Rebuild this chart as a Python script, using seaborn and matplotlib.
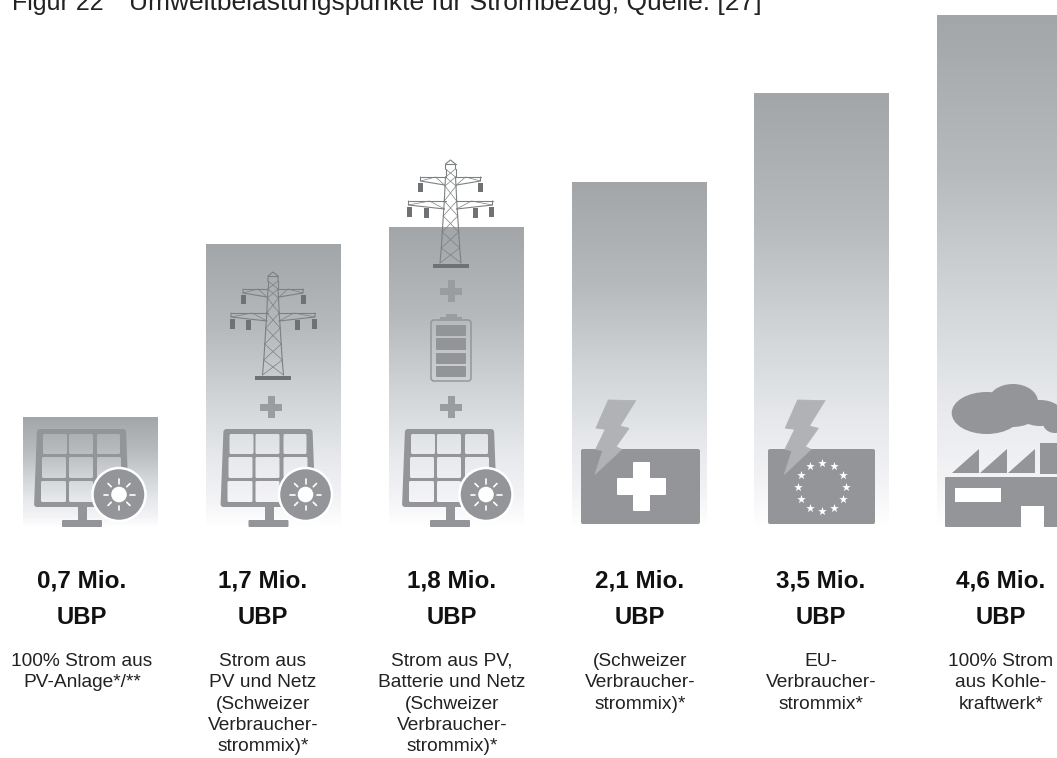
"""
Umweltbelastungspunkte fuer Strombezug: gradient bars with pictograms.
The bars are not to scale with the UBP labels, heights are read off the figure.
"""

import numpy as np
import pandas as pd
import seaborn as sns
import matplotlib.pyplot as plt
from matplotlib.colors import LinearSegmentedColormap
from matplotlib.patches import Circle, Ellipse, FancyBboxPatch, PathPatch, Polygon, Rectangle
from matplotlib.path import Path

sources = ["PV", "PV+Netz", "PV+Batterie+Netz", "CH-Mix", "EU-Mix", "Kohle"]
bar_heights = [110, 283, 300, 345, 434, 512]
ubp_labels = ["0,7 Mio.", "1,7 Mio.", "1,8 Mio.", "2,1 Mio.", "3,5 Mio.", "4,6 Mio."]
descriptions = [
    "100% Strom aus\nPV-Anlage*/**",
    "Strom aus\nPV und Netz\n(Schweizer\nVerbraucher-\nstrommix)*",
    "Strom aus PV,\nBatterie und Netz\n(Schweizer\nVerbraucher-\nstrommix)*",
    "(Schweizer\nVerbraucher-\nstrommix)*",
    "EU-\nVerbraucher-\nstrommix*",
    "100% Strom\naus Kohle-\nkraftwerk*",
]
label_centers = [82, 263, 452, 640, 821, 1001]
title_num = "Figur 22"
title_txt = "Umweltbelastungspunkte für Strombezug, Quelle: [27]"

ICON = "#939598"
FONT = "Liberation Sans"


def round_poly(pts, r):
    # closed 4 point polygon with rounded corners, for a compound path
    verts, codes = [], []
    n = len(pts)
    for i in range(n):
        p = np.array(pts[i], dtype=float)
        prev = np.array(pts[i - 1], dtype=float)
        nxt = np.array(pts[(i + 1) % n], dtype=float)
        a = p + (prev - p) / np.linalg.norm(prev - p) * r
        b = p + (nxt - p) / np.linalg.norm(nxt - p) * r
        verts.append(tuple(a))
        codes.append(Path.MOVETO if i == 0 else Path.LINETO)
        verts += [tuple(p), tuple(b)]
        codes += [Path.CURVE3, Path.CURVE3]
    verts.append(verts[0])
    codes.append(Path.CLOSEPOLY)
    return verts, codes


def solar(ax, dx, badge_dx):
    # panel with the cells cut out so the gradient shows through
    verts, codes = round_poly([(37, 429), (126, 429), (129, 507), (34, 507)], 3)
    rows = [(434, 454, [(43, 67), (69, 93), (97, 120)]),
            (457, 478, [(42, 66), (69, 93), (97, 121)]),
            (481, 502, [(41, 66), (69, 93), (97, 122)])]
    for y0, y1, cols in rows:
        for x0, x1 in cols:
            v, c = round_poly([(x0, y0), (x0, y1), (x1, y1), (x1, y0)], 1.5)
            verts += v
            codes += c
    verts = [(x + dx, y) for x, y in verts]
    ax.add_patch(PathPatch(Path(verts, codes), fc=ICON, ec="none"))
    ax.add_patch(Rectangle((78 + dx, 507), 9, 15, fc=ICON, ec="none"))
    ax.add_patch(FancyBboxPatch((63 + dx, 521), 38, 5, boxstyle="round,pad=1", fc=ICON, ec="none"))
    # sun badge
    cx, cy = 119 + badge_dx, 494.5
    ax.add_patch(Circle((cx, cy), 26.5, fc=ICON, ec="white", lw=1.8))
    ax.add_patch(Circle((cx, cy), 7.8, fc="white", ec="none"))
    for a in np.deg2rad(np.arange(0, 360, 45)):
        ax.plot([cx + 11 * np.cos(a), cx + 15.5 * np.cos(a)], [cy + 11 * np.sin(a), cy + 15.5 * np.sin(a)],
                color="white", lw=1.2, solid_capstyle="round")


def plus(ax, cx, cy):
    ax.add_patch(Rectangle((cx - 11, cy - 3.5), 22, 7, fc="#9a9da0", ec="none"))
    ax.add_patch(Rectangle((cx - 3.5, cy - 11), 7, 22, fc="#9a9da0", ec="none"))


def pylon(ax, cx, top):
    col = "#7d8083"
    kw = dict(color=col, lw=0.8)
    ys = [9, 17, 26, 41, 56, 72, 88, 103]
    half = [5, 5, 5.5, 6.2, 7.2, 8.2, 9.2, 10.5]
    # cap
    ax.plot([cx - 5, cx - 5, cx, cx + 5, cx + 5], [top + 9, top + 4, top, top + 4, top + 9], **kw)
    ax.plot([cx - 5, cx + 5], [top + 4, top + 4], **kw)
    for i in range(len(ys) - 1):
        ax.plot([cx - half[i], cx - half[i + 1]], [top + ys[i], top + ys[i + 1]], **kw)
        ax.plot([cx + half[i], cx + half[i + 1]], [top + ys[i], top + ys[i + 1]], **kw)
        ax.plot([cx - half[i], cx + half[i + 1]], [top + ys[i], top + ys[i + 1]], color=col, lw=0.5)
        ax.plot([cx + half[i], cx - half[i + 1]], [top + ys[i], top + ys[i + 1]], color=col, lw=0.5)
    # arms
    for arm, yy in [(30, 17), (42, 41)]:
        for s in (-1, 1):
            ax.plot([cx + s * 5, cx + s * arm], [top + yy, top + yy], **kw)
            ax.plot([cx + s * arm, cx + s * arm, cx + s * 6], [top + yy, top + yy + 4, top + yy + 8], **kw)
            ax.plot([cx + s * 6, cx + s * arm * 0.5, cx + s * arm], [top + yy + 8, top + yy, top + yy + 4], color=col, lw=0.5)
    # insulators and foot
    for ix, iy, ih in [(-30, 23, 9), (30, 23, 9), (-41, 47, 10), (41, 47, 10), (-24.5, 48, 10), (24.5, 48, 10)]:
        ax.add_patch(Rectangle((cx + ix - 2.5, top + iy), 5, ih, fc="#6f7275", ec="none"))
    ax.add_patch(Rectangle((cx - 18, top + 104), 36, 4, fc="#6f7275", ec="none"))


def battery(ax):
    ax.add_patch(FancyBboxPatch((434, 323), 34, 55, boxstyle="round,pad=3", fc="none", ec="#8f9295", lw=1))
    ax.add_patch(Rectangle((440, 317), 22, 3, fc="#9a9da0", ec="none"))
    ax.add_patch(Rectangle((446, 314), 11, 3, fc="#9a9da0", ec="none"))
    for y0, y1 in [(325, 336), (338, 350), (353, 364), (366, 377)]:
        ax.add_patch(FancyBboxPatch((437, y0 + 1), 28, y1 - y0 - 2, boxstyle="round,pad=1", fc="#929497", ec="none"))


def bolt(ax, dx):
    pts = [(205, 180), (287, 182), (240, 258), (267, 265), (228, 320), (245, 328),
           (165, 403), (188, 332), (167, 328), (196, 268), (168, 264)]
    pts = [(540 + x / 3 + dx, 340 + y / 3) for x, y in pts]
    ax.add_patch(Polygon(pts, closed=True, fc="#b1b2b5", ec="#b1b2b5", lw=0.6, joinstyle="round", zorder=5))


def flag(ax, x0, x1):
    ax.add_patch(FancyBboxPatch((x0 + 2, 451), x1 - x0 - 4, 71, boxstyle="round,pad=2", fc=ICON, ec="none"))


def swiss(ax):
    flag(ax, 581, 700)
    ax.add_patch(FancyBboxPatch((634, 463), 15, 47, boxstyle="round,pad=1", fc="white", ec="none"))
    ax.add_patch(FancyBboxPatch((618, 479), 47, 15, boxstyle="round,pad=1", fc="white", ec="none"))
    bolt(ax, 0)


def europe(ax):
    flag(ax, 768, 875)
    a = np.deg2rad(np.arange(0, 360, 30))
    ax.scatter(822 + 23.7 * np.cos(a), 487 + 23.7 * np.sin(a), marker="*", s=42, c="white", linewidths=0, zorder=6)
    bolt(ax, 189.3)


def factory(ax):
    for cx, cy, rx, ry in [(986.7, 413, 35, 21), (1013, 402, 25, 18), (1012, 414, 25, 13),
                           (1040, 413, 21.7, 13), (1055, 423, 12, 10)]:
        ax.add_patch(Ellipse((cx, cy), 2 * rx, 2 * ry, fc=ICON, ec="none"))
    for x0 in (952, 980, 1008):
        ax.add_patch(Polygon([(x0, 473), (x0 + 27, 449), (x0 + 27, 473)], fc=ICON, ec="none"))
    ax.add_patch(Rectangle((1040, 443), 20, 31, fc=ICON, ec="none"))
    ax.add_patch(FancyBboxPatch((946, 478), 120, 48, boxstyle="round,pad=1", fc=ICON, ec="none"))
    ax.add_patch(Rectangle((955, 488), 46, 14, fc="white", ec="none"))
    ax.add_patch(Rectangle((1021, 506), 23, 22, fc="white", ec="none"))


def main() -> None:
    sns.set_theme(style="white")
    plt.rcParams["font.family"] = [FONT, "DejaVu Sans"]

    fig = plt.figure(figsize=(10.57, 7.58), dpi=100)
    ax = fig.add_axes([0, 0, 1, 1])
    df = pd.DataFrame({"source": sources, "height": bar_heights})
    sns.barplot(data=df, x="source", y="height", width=0.736, color="white", ax=ax, saturation=1)

    grad = LinearSegmentedColormap.from_list(
        "bar", [(0, "#a3a6a8"), (0.3, "#b6babd"), (0.55, "#d1d5d8"), (0.75, "#e6e8eb"), (0.9, "#f3f3f6"), (1, "#ffffff")]
    )
    for bar in list(ax.patches):
        x0, w, h = bar.get_x(), bar.get_width(), bar.get_height()
        im = ax.imshow(np.linspace(0, 1, 256).reshape(-1, 1), extent=(x0, x0 + w, 0, h), aspect="auto",
                       cmap=grad, vmin=0, vmax=1, origin="upper", zorder=3)
        im.set_clip_path(bar)
    ax.set_xlim(-0.4952, 5.2886)
    ax.set_ylim(-231, 527)
    ax.axis("off")

    # pixel based overlay for pictograms and text
    deco = fig.add_axes([0, 0, 1, 1], facecolor="none")
    deco.set_xlim(0, 1057)
    deco.set_ylim(758, 0)
    deco.axis("off")

    solar(deco, 0, 0)
    solar(deco, 186.5, 186.5)
    solar(deco, 368, 367)
    plus(deco, 271, 407)
    plus(deco, 451, 407)
    plus(deco, 451, 291)
    pylon(deco, 273, 272)
    pylon(deco, 450.5, 160)
    battery(deco)
    swiss(deco)
    europe(deco)
    factory(deco)

    deco.text(12, 10, title_num, fontsize=18, color="#222222", va="baseline", ha="left")
    deco.text(129, 10, title_txt, fontsize=19, color="#222222", va="baseline", ha="left")

    for cx, ubp, desc in zip(label_centers, ubp_labels, descriptions):
        deco.text(cx, 581, ubp, fontsize=17.5, fontweight="bold", color="#111111", ha="center", va="center")
        deco.text(cx, 618, "UBP", fontsize=17.2, fontweight="bold", color="#111111", ha="center", va="center")
        deco.text(cx, 653, desc, fontsize=13.8, color="#222222", ha="center", va="top", linespacing=1.33)

    fig.savefig("out.png", dpi=100)


if __name__ == "__main__":
    main()
